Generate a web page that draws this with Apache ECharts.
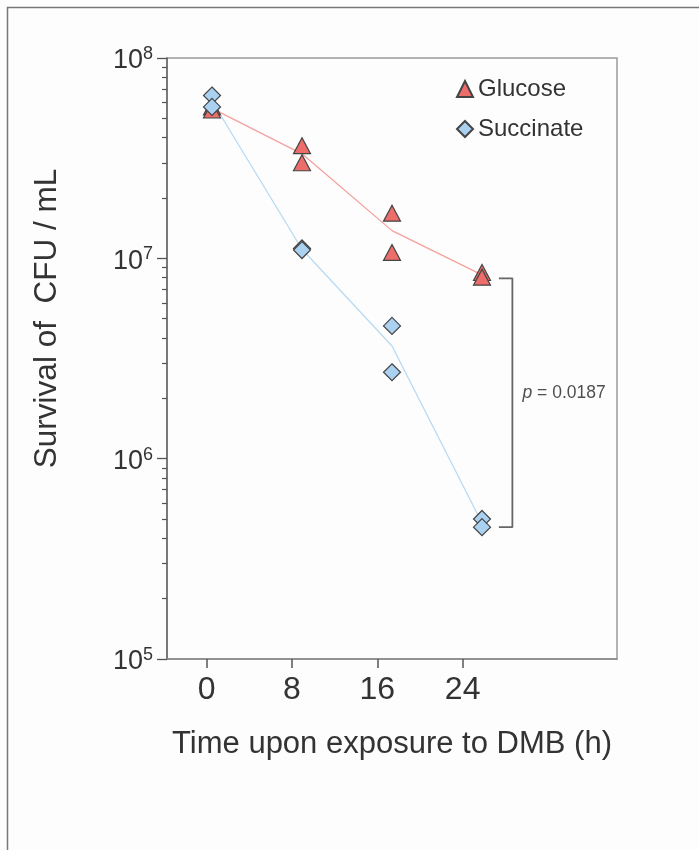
<!DOCTYPE html>
<html>
<head>
<meta charset="utf-8">
<script src="https://cdn.jsdelivr.net/npm/echarts@6/dist/echarts.min.js"></script>
<style>
html, body { margin: 0; padding: 0; background: #fdfdfd; }
#main { width: 699px; height: 850px; }
</style>
</head>
<body>
<div id="main"></div>
<script>
// time points (h)
const hours = [0, 8, 16, 24];
// CFU/mL, two replicates per time point
const glucose = [[5.7e7, 5.5e7], [3.65e7, 3.0e7], [1.68e7, 1.07e7], [8.5e6, 8.05e6]];
const succinate = [[6.5e7, 5.7e7], [1.12e7, 1.10e7], [4.6e6, 2.7e6], [5.0e5, 4.55e5]];

// axis ticks
const xTicks = [0, 8, 16, 24];
const yMajor = [1e5, 1e6, 1e7, 1e8];
const yMinor = [];
yMajor.slice(0, 3).forEach(d => {
    for (let k = 2; k <= 9; k++) yMinor.push(k * d);
});

// significance bracket at 24 h
const bracketX = [25.5, 26.7];
const bracketY = [7.95e6, 4.55e5];
const pPos = [27.6, 2.13e6];
const pText = '{i|p} = 0.0187';

function mean(a) {
    return a.reduce((s, v) => s + v, 0) / a.length;
}
function points(rows) {
    let out = [];
    rows.forEach((r, i) => r.forEach(v => out.push([hours[i], v])));
    return out;
}

let myChart = echarts.init(document.getElementById('main'));

const font = 'Liberation Sans, Arial, Helvetica, sans-serif';

myChart.setOption({
    backgroundColor: '#fdfdfd',
    animation: false,
    textStyle: { fontFamily: font },
    graphic: [{
        type: 'rect',
        silent: true,
        shape: { x: 7.5, y: 7.5, width: 760, height: 900 },
        style: { fill: null, stroke: '#777', lineWidth: 1.5 }
    }],
    legend: {
        orient: 'vertical',
        left: 456,
        top: 77,
        padding: 0,
        itemWidth: 16,
        itemHeight: 16,
        itemGap: 16,
        textStyle: { fontSize: 24, color: '#333', fontFamily: font },
        data: ['Glucose', 'Succinate']
    },
    grid: {
        left: 167,
        top: 58,
        width: 450,
        height: 601,
        show: true,
        borderColor: '#9a9a9a',
        borderWidth: 1.5,
        backgroundColor: 'transparent'
    },
    xAxis: [{
        type: 'value',
        position: 'bottom',
        min: -3.72,
        max: 38.47,
        axisLine: { onZero: false, lineStyle: { color: '#888', width: 1.5 } },
        axisTick: { customValues: xTicks, length: 9, lineStyle: { color: '#555', width: 1.5 } },
        axisLabel: { customValues: xTicks, fontSize: 32, color: '#333', margin: 15, fontFamily: font },
        splitLine: { show: false },
        name: 'Time upon exposure to DMB (h)',
        nameLocation: 'middle',
        nameGap: 70,
        nameTextStyle: { fontSize: 31, color: '#333', fontFamily: font }
    }, {
        // data positions of the markers
        type: 'value',
        position: 'bottom',
        min: -4,
        max: 36,
        show: false
    }],
    yAxis: [{
        type: 'log',
        logBase: 10,
        position: 'left',
        min: 1e5,
        max: 1e8,
        axisLine: { onZero: false, lineStyle: { color: '#666', width: 1.5 } },
        axisTick: { customValues: yMajor, length: 10, lineStyle: { color: '#555', width: 1.3 } },
        axisLabel: {
            customValues: yMajor,
            margin: 14,
            padding: [6, 0, 0, 0],
            formatter: v => '{b|10}{s|' + Math.round(Math.log10(v)) + '}',
            rich: {
                b: { fontSize: 27, lineHeight: 32, color: '#333', fontFamily: font },
                s: { fontSize: 18, lineHeight: 6, verticalAlign: 'top', color: '#333', fontFamily: font }
            }
        },
        splitLine: { show: false },
        name: 'Survival of  CFU / mL',
        nameLocation: 'middle',
        nameGap: 104,
        nameTextStyle: { fontSize: 31.5, color: '#333', fontFamily: font, padding: [0, 0, 0, 80] }
    }, {
        // minor log ticks
        type: 'log',
        logBase: 10,
        position: 'left',
        min: 1e5,
        max: 1e8,
        axisLine: { show: false, onZero: false },
        axisTick: { customValues: yMinor, length: 5, lineStyle: { color: '#555', width: 1.2 } },
        axisLabel: { show: false },
        splitLine: { show: false }
    }],
    series: [{
        type: 'line',
        xAxisIndex: 1,
        silent: true,
        symbol: 'none',
        z: 2,
        lineStyle: { color: '#f4a19d', width: 1.3 },
        data: hours.map((h, i) => [h, mean(glucose[i])])
    }, {
        type: 'line',
        xAxisIndex: 1,
        silent: true,
        symbol: 'none',
        z: 2,
        lineStyle: { color: '#b8daf3', width: 1.3 },
        data: hours.map((h, i) => [h, mean(succinate[i])])
    }, {
        name: 'Glucose',
        type: 'scatter',
        xAxisIndex: 1,
        symbol: 'triangle',
        symbolSize: [17, 16],
        z: 3,
        itemStyle: { color: '#ec6d6a', borderColor: '#444', borderWidth: 1.2, opacity: 1 },
        data: points(glucose)
    }, {
        name: 'Succinate',
        type: 'scatter',
        xAxisIndex: 1,
        symbol: 'diamond',
        symbolSize: 17,
        z: 4,
        itemStyle: { color: '#abd1f1', borderColor: '#444', borderWidth: 1.2, opacity: 1 },
        data: points(succinate)
    }, {
        type: 'line',
        xAxisIndex: 1,
        silent: true,
        symbol: 'none',
        z: 2,
        lineStyle: { color: '#666', width: 1.8 },
        data: [[bracketX[0], bracketY[0]], [bracketX[1], bracketY[0]], [bracketX[1], bracketY[1]], [bracketX[0], bracketY[1]]]
    }, {
        type: 'scatter',
        xAxisIndex: 1,
        silent: true,
        symbolSize: 0,
        label: {
            show: true,
            position: 'right',
            distance: 0,
            formatter: pText,
            fontSize: 17.5,
            color: '#222',
            fontFamily: font,
            rich: { i: { fontSize: 17.5, fontStyle: 'italic', color: '#222', fontFamily: font } }
        },
        data: [pPos]
    }]
});
</script>
</body>
</html>
